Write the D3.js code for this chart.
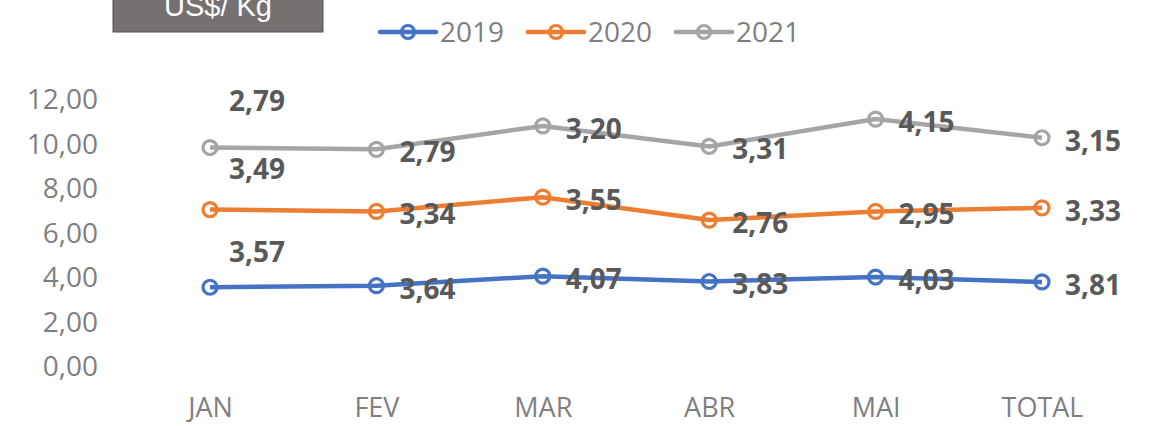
<!DOCTYPE html>
<html>
<head>
<meta charset="utf-8">
<script src="https://cdn.jsdelivr.net/npm/d3@7"></script>
<style>
  html, body { margin: 0; padding: 0; background: #fff; }
  svg { display: block; }
</style>
</head>
<body>
<svg id="chart" width="1153" height="426"></svg>
<script>
const categories = ["JAN", "FEV", "MAR", "ABR", "MAI", "TOTAL"];
const seriesNames = ["2019", "2020", "2021"];
const values2019 = [3.57, 3.64, 4.07, 3.83, 4.03, 3.81];
const values2020 = [3.49, 3.34, 3.55, 2.76, 2.95, 3.33];
const values2021 = [2.79, 2.79, 3.20, 3.31, 4.15, 3.15];
const yTicks = [0, 2, 4, 6, 8, 10, 12];
const titleText = "US$/ Kg";

const colors = ["#4472C4", "#ED7D31", "#A5A5A5"];

const rows = categories.map((c, i) => ({
  cat: c,
  "2019": values2019[i],
  "2020": values2020[i],
  "2021": values2021[i]
}));
const stacked = d3.stack().keys(seriesNames)(rows);

const locale = d3.formatLocale({ decimal: ",", thousands: ".", grouping: [3], currency: ["", ""] });
const fmt = locale.format(".2f");

const svg = d3.select("#chart");

const x = d3.scalePoint().domain(categories).range([210, 1042]);
const y = d3.scaleLinear().domain([0, 12]).range([366.7, 99.7]);

// Y axis
const yAxis = svg.append("g")
  .attr("transform", "translate(108,0)")
  .call(d3.axisLeft(y).tickValues(yTicks).tickSize(0).tickPadding(10).tickFormat(fmt));
yAxis.select(".domain").remove();
yAxis.selectAll("text")
  .attr("font-family", "'Open Sans', sans-serif")
  .attr("font-size", 28)
  .attr("fill", "#7f7f7f");

// X axis
const xAxis = svg.append("g")
  .attr("transform", "translate(0,367)")
  .call(d3.axisBottom(x).tickSize(0).tickPadding(31));
xAxis.select(".domain").remove();
xAxis.selectAll("text")
  .attr("font-family", "'Open Sans', sans-serif")
  .attr("font-size", 27)
  .attr("fill", "#7f7f7f");

// Lines
const line = d3.line()
  .x(d => x(d.data.cat))
  .y(d => y(d[1]));

const series = svg.append("g").selectAll("g")
  .data(stacked)
  .join("g");

series.append("path")
  .attr("d", d => line(d))
  .attr("fill", "none")
  .attr("stroke", (d, i) => colors[i])
  .attr("stroke-width", 4.5)
  .attr("stroke-linejoin", "round");

series.selectAll("circle")
  .data(d => d)
  .join("circle")
  .attr("cx", d => x(d.data.cat))
  .attr("cy", d => y(d[1]))
  .attr("r", 7)
  .attr("fill", "none")
  .attr("stroke", function() { return colors[d3.select(this.parentNode).datum().index]; })
  .attr("stroke-width", 3.2);

// Data labels
const firstDy = [-35, -40, -46];
series.each(function(s, si) {
  d3.select(this).selectAll("text")
    .data(s)
    .join("text")
    .attr("x", (d, i) => x(d.data.cat) + (i === 0 ? 19 : 23))
    .attr("y", (d, i) => y(d[1]) + (i === 0 ? firstDy[si] : 3))
    .attr("dy", "0.35em")
    .attr("font-family", "'Open Sans', sans-serif")
    .attr("font-weight", 700)
    .attr("font-size", 28)
    .attr("fill", "#595959")
    .text(d => fmt(d.data[s.key]));
});

// Legend
const legend = svg.append("g").attr("transform", "translate(380,32)");
const items = legend.selectAll("g")
  .data(seriesNames)
  .join("g")
  .attr("transform", (d, i) => `translate(${i * 148},0)`);
items.append("line")
  .attr("x1", 0).attr("x2", 56).attr("y1", 0).attr("y2", 0)
  .attr("stroke", (d, i) => colors[i])
  .attr("stroke-width", 4.5)
  .attr("stroke-linecap", "round");
items.append("circle")
  .attr("cx", 28).attr("cy", 0).attr("r", 6.5)
  .attr("fill", "none")
  .attr("stroke", (d, i) => colors[i])
  .attr("stroke-width", 3.2);
items.append("text")
  .attr("x", 60).attr("y", 0).attr("dy", "0.35em")
  .attr("font-family", "'Open Sans', sans-serif")
  .attr("font-size", 28)
  .attr("fill", "#7f7f7f")
  .text(d => d);

// Title box
const title = svg.append("g");
title.append("rect")
  .attr("x", 113).attr("y", -2).attr("width", 210).attr("height", 34)
  .attr("fill", "#767171")
  .attr("stroke", "#44546A")
  .attr("stroke-width", 1);
title.append("text")
  .attr("x", 218).attr("y", 16)
  .attr("text-anchor", "middle")
  .attr("font-family", "'Liberation Sans', Arial, sans-serif")
  .attr("font-size", 29)
  .attr("fill", "#ffffff")
  .text(titleText);
</script>
</body>
</html>
